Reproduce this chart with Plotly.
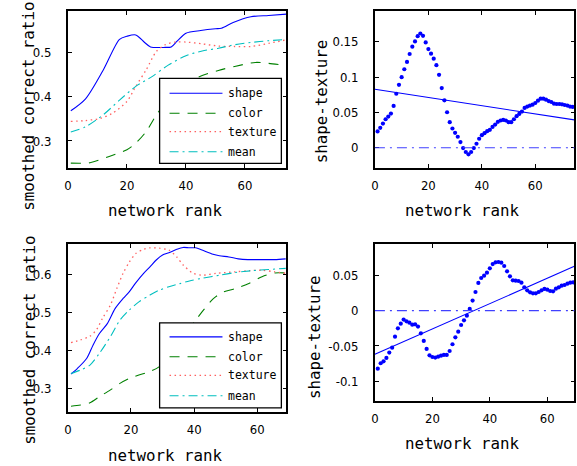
import plotly.graph_objects as go

W, H = 577, 466

# ---------------- data ----------------
# top-left panel (smoothed correct ratio vs network rank)
tl_shape_x = [1, 6, 12, 17.5, 20, 23, 26, 28, 33, 35, 37, 40, 45, 50, 52, 56, 62, 68, 74]
tl_shape_y = [0.368, 0.395, 0.46, 0.529, 0.536, 0.539, 0.522, 0.512, 0.511, 0.512, 0.525, 0.543,
              0.549, 0.553, 0.554, 0.567, 0.58, 0.583, 0.586]
tl_color_x = [1, 7.5, 14, 20, 23, 26.5, 30, 33, 36, 40, 44.5, 51, 56.5, 63.5, 68, 74]
tl_color_y = [0.25, 0.251, 0.265, 0.28, 0.295, 0.321, 0.359, 0.385, 0.405, 0.428, 0.445, 0.459,
              0.468, 0.477, 0.475, 0.47]
tl_texture_x = [1, 6, 11, 15, 20, 23, 26.5, 30, 33, 36.5, 40, 45.5, 51, 56.5, 62, 68, 74]
tl_texture_y = [0.344, 0.346, 0.351, 0.362, 0.389, 0.423, 0.46, 0.502, 0.517, 0.523, 0.523, 0.519,
                0.514, 0.513, 0.513, 0.52, 0.528]
tl_mean_x = [1, 6, 12, 17.5, 23, 28.5, 34, 40, 45.5, 51, 56.5, 62, 68, 74]
tl_mean_y = [0.32, 0.332, 0.359, 0.392, 0.423, 0.445, 0.471, 0.492, 0.503, 0.509, 0.517, 0.522,
             0.526, 0.529]

# bottom-left panel
bl_shape_x = [1, 3, 6, 8, 10, 12.5, 15, 17.5, 19.5, 21.5, 24, 26, 28, 30, 32, 34.5, 36.5, 38.5,
              40.5, 42.5, 46, 48, 51, 54, 57, 61.5, 65.5, 69]
bl_shape_y = [0.3375, 0.352, 0.379, 0.414, 0.444, 0.47, 0.51, 0.536, 0.554, 0.577, 0.602, 0.619,
              0.637, 0.65, 0.656, 0.665, 0.67, 0.669, 0.669, 0.663, 0.652, 0.648, 0.645, 0.64,
              0.638, 0.638, 0.638, 0.64]
bl_color_x = [1, 4, 7, 10, 13.5, 16.5, 19.5, 22.5, 26, 29, 32, 35, 38, 40.5, 43, 46, 49, 53, 57.5,
              61.5, 65.5, 69]
bl_color_y = [0.253, 0.256, 0.262, 0.278, 0.296, 0.313, 0.326, 0.335, 0.344, 0.357, 0.379, 0.41,
              0.45, 0.479, 0.506, 0.535, 0.552, 0.562, 0.576, 0.593, 0.603, 0.603]
bl_texture_x = [1, 4, 7, 9, 11, 13.5, 15.5, 17.5, 19.5, 21.5, 24, 26, 29, 32, 34.5, 36.5, 39.5,
                42.5, 47, 53, 57.5, 61.5, 65.5, 69]
bl_texture_y = [0.42, 0.427, 0.437, 0.453, 0.484, 0.519, 0.562, 0.602, 0.632, 0.654, 0.665, 0.669,
                0.668, 0.663, 0.645, 0.624, 0.603, 0.597, 0.602, 0.606, 0.609, 0.61, 0.606, 0.602]
bl_mean_x = [1, 4, 7, 10, 13.5, 16.5, 19.5, 22.5, 26, 29, 32, 35.5, 38.5, 42.5, 48, 53, 58.5,
             63.5, 69]
bl_mean_y = [0.339, 0.348, 0.361, 0.392, 0.436, 0.479, 0.506, 0.527, 0.545, 0.558, 0.567, 0.575,
             0.582, 0.589, 0.597, 0.604, 0.609, 0.612, 0.615]

# top-right panel: shape - texture per network rank
tr_diff = [0.0230, 0.0281, 0.0342, 0.0403, 0.0441, 0.0483, 0.0591, 0.0764, 0.0891, 0.0999,
           0.1111, 0.1214, 0.1327, 0.1430, 0.1505, 0.1580, 0.1617, 0.1584, 0.1491, 0.1397,
           0.1332, 0.1261, 0.1168, 0.1032, 0.0844, 0.0671, 0.0502, 0.0361, 0.0272, 0.0211,
           0.0155, 0.0080, -0.0005, -0.0061, -0.0094, -0.0061, -0.0005, 0.0056, 0.0127, 0.0178,
           0.0206, 0.0234, 0.0253, 0.0295, 0.0328, 0.0366, 0.0385, 0.0394, 0.0385, 0.0361,
           0.0361, 0.0403, 0.0446, 0.0478, 0.0511, 0.0563, 0.0582, 0.0596, 0.0610, 0.0633,
           0.0666, 0.0694, 0.0694, 0.0680, 0.0661, 0.0647, 0.0624, 0.0619, 0.0619, 0.0614,
           0.0605, 0.0596, 0.0582, 0.0577]
tr_rank = list(range(1, len(tr_diff) + 1))
tr_fit_x = [0, 74.6]
tr_fit_y = [0.0828, 0.0394]

# bottom-right panel
br_diff = [-0.0821, -0.0745, -0.0717, -0.0670, -0.0594, -0.0524, -0.0368, -0.0250, -0.0184,
           -0.0127, -0.0151, -0.0170, -0.0198, -0.0193, -0.0226, -0.0321, -0.0429, -0.0542,
           -0.0632, -0.0656, -0.0665, -0.0651, -0.0637, -0.0627, -0.0627, -0.0571, -0.0476,
           -0.0377, -0.0297, -0.0203, -0.0137, -0.0071, 0.0024, 0.0142, 0.0264, 0.0392, 0.0462,
           0.0495, 0.0538, 0.0599, 0.0660, 0.0684, 0.0689, 0.0679, 0.0632, 0.0557, 0.0486,
           0.0429, 0.0425, 0.0420, 0.0396, 0.0330, 0.0288, 0.0259, 0.0245, 0.0245, 0.0264,
           0.0288, 0.0307, 0.0297, 0.0278, 0.0274, 0.0311, 0.0330, 0.0354, 0.0363, 0.0382,
           0.0396, 0.0401]
br_rank = list(range(1, len(br_diff) + 1))
br_fit_x = [0, 69.4]
br_fit_y = [-0.0618, 0.0627]

legend_labels = ["shape", "color", "texture", "mean"]
x_tickvals = [0, 20, 40, 60]
tr_yticks = [0, 0.05, 0.1, 0.15]
tr_yticktext = ["0", "0.05", "0.1", "0.15"]
br_yticks = [-0.1, -0.05, 0, 0.05]
br_yticktext = ["-0.1", "-0.05", "0", "0.05"]
left_yticks = [0.3, 0.4, 0.5, 0.6]
left_yticktext = ["0.3", "0.4", "0.5", "0.6"]

# ---------------- styling ----------------
BLUE = "#0000ff"
GREEN = "#008000"
PINK = "#ff6060"
CYAN = "#00bfbf"
styles = [
    dict(color=BLUE, width=1.1, dash="solid"),
    dict(color=GREEN, width=1.1, dash="10px,8px"),
    dict(color=PINK, width=1.3, dash="1.5px,3.5px"),
    dict(color=CYAN, width=1.1, dash="9px,4px,2px,4px"),
]
TICKFONT = dict(family="Liberation Sans Narrow, DejaVu Sans Condensed, Liberation Sans, sans-serif",
                size=13, color="black")
TITLEFONT = dict(family="DejaVu Sans Mono, Liberation Mono, monospace", size=15.8, color="black")
LEGFONT = dict(family="DejaVu Sans Mono, Liberation Mono, monospace", size=11.5, color="black")


def fx(px):
    return px / W


def fy(py):
    return 1 - py / H


fig = go.Figure()

# left panels
for (xs_list, ys_list, xa, ya) in [
    ([tl_shape_x, tl_color_x, tl_texture_x, tl_mean_x],
     [tl_shape_y, tl_color_y, tl_texture_y, tl_mean_y], "x", "y"),
    ([bl_shape_x, bl_color_x, bl_texture_x, bl_mean_x],
     [bl_shape_y, bl_color_y, bl_texture_y, bl_mean_y], "x3", "y3"),
]:
    for i in range(4):
        fig.add_trace(go.Scatter(x=xs_list[i], y=ys_list[i], mode="lines",
                                 line=dict(shape="spline", smoothing=0.8, **styles[i]),
                                 xaxis=xa, yaxis=ya, showlegend=False,
                                 name=legend_labels[i]))

# right panels
for (rank, diff, fitx, fity, xa, ya) in [
    (tr_rank, tr_diff, tr_fit_x, tr_fit_y, "x2", "y2"),
    (br_rank, br_diff, br_fit_x, br_fit_y, "x4", "y4"),
]:
    fig.add_trace(go.Scatter(x=fitx, y=fity, mode="lines", line=dict(color=BLUE, width=1.1),
                             xaxis=xa, yaxis=ya, showlegend=False))
    fig.add_trace(go.Scatter(x=rank, y=diff, mode="markers",
                             marker=dict(color=BLUE, size=4.2, line=dict(width=0)),
                             xaxis=xa, yaxis=ya, showlegend=False))

common = dict(showline=True, linecolor="black", linewidth=1.6, mirror="allticks",
              ticks="inside", ticklen=4, tickcolor="black", tickwidth=1,
              showgrid=False, zeroline=False, tickfont=TICKFONT, fixedrange=True)

xl_dom = [fx(64.3), fx(284.3)]
xr_dom = [fx(373.5), fx(574.3)]

fig.update_layout(
    width=W, height=H, margin=dict(l=0, r=0, t=0, b=0),
    paper_bgcolor="white", plot_bgcolor="white", showlegend=False,
    xaxis=dict(domain=xl_dom, range=[0, 74], tickvals=x_tickvals, anchor="y",
               ticklabelstandoff=5, **common),
    yaxis=dict(domain=[fy(168), fy(11)], range=[0.239, 0.593], tickvals=left_yticks,
               ticktext=left_yticktext, anchor="x", ticklabelstandoff=12, **common),
    xaxis2=dict(domain=xr_dom, range=[0, 74.6], tickvals=x_tickvals, anchor="y2",
                ticklabelstandoff=5, **common),
    yaxis2=dict(domain=[fy(167.7), fy(10.7)], range=[-0.0283, 0.194], tickvals=tr_yticks,
                ticktext=tr_yticktext, anchor="x2", ticklabelstandoff=12, **common),
    xaxis3=dict(domain=xl_dom, range=[0, 69.2], tickvals=x_tickvals, anchor="y3",
                ticklabelstandoff=5, **common),
    yaxis3=dict(domain=[fy(411.7), fy(244)], range=[0.2386, 0.679], tickvals=left_yticks,
                ticktext=left_yticktext, anchor="x3", ticklabelstandoff=12, **common),
    xaxis4=dict(domain=xr_dom, range=[0, 69.4], tickvals=x_tickvals, anchor="y4",
                ticklabelstandoff=5, **common),
    yaxis4=dict(domain=[fy(400.7), fy(243.7)], range=[-0.1275, 0.0948], tickvals=br_yticks,
                ticktext=br_yticktext, anchor="x4", ticklabelstandoff=12, **common),
)

shapes = []
# zero reference lines on right panels
for xa, ya in [("x2", "y2"), ("x4", "y4")]:
    shapes.append(dict(type="line", xref=f"{xa} domain", yref=ya, x0=0, x1=1, y0=0, y1=0,
                       line=dict(color="#4040ff", width=1.1, dash="10px,5px,2px,5px"),
                       layer="above"))

annotations = []
# manual legends (box + samples + labels)
for (top, rows) in [(78.3, [93.3, 113.3, 131.7, 151.7]), (322.9, [336.9, 356.7, 375.3, 395.8])]:
    bottom = top + 85
    shapes.append(dict(type="rect", xref="paper", yref="paper", x0=fx(156.7), x1=fx(279.3),
                       y0=fy(bottom), y1=fy(top), fillcolor="white",
                       line=dict(color="black", width=1.3), layer="above"))
    for i, ry in enumerate(rows):
        shapes.append(dict(type="line", xref="paper", yref="paper", x0=fx(166.7), x1=fx(220),
                           y0=fy(ry), y1=fy(ry), line=styles[i], layer="above"))
        annotations.append(dict(text=legend_labels[i], xref="paper", yref="paper",
                                x=fx(224), y=fy(ry), xanchor="left", yanchor="middle",
                                showarrow=False, font=LEGFONT))

# axis titles
titles = [
    ("network rank", 162.5, 211, 0), ("smoothed correct ratio", 25, 106, -90),
    ("network rank", 461.7, 211, 0), ("shape-texture", 320, 101.5, -90),
    ("network rank", 162.5, 455, 0), ("smoothed correct ratio", 25, 340, -90),
    ("network rank", 461.7, 443.5, 0), ("shape-texture", 312.5, 336.7, -90),
]
for txt, x, y, ang in titles:
    annotations.append(dict(text=txt, xref="paper", yref="paper", x=fx(x), y=fy(y),
                            xanchor="center", yanchor="middle", showarrow=False,
                            textangle=ang, font=TITLEFONT))

fig.update_layout(shapes=shapes, annotations=annotations)

fig.write_html("out.html", config={"displayModeBar": False},
               post_script="document.body.style.margin='0px';document.body.style.padding='0px';")
